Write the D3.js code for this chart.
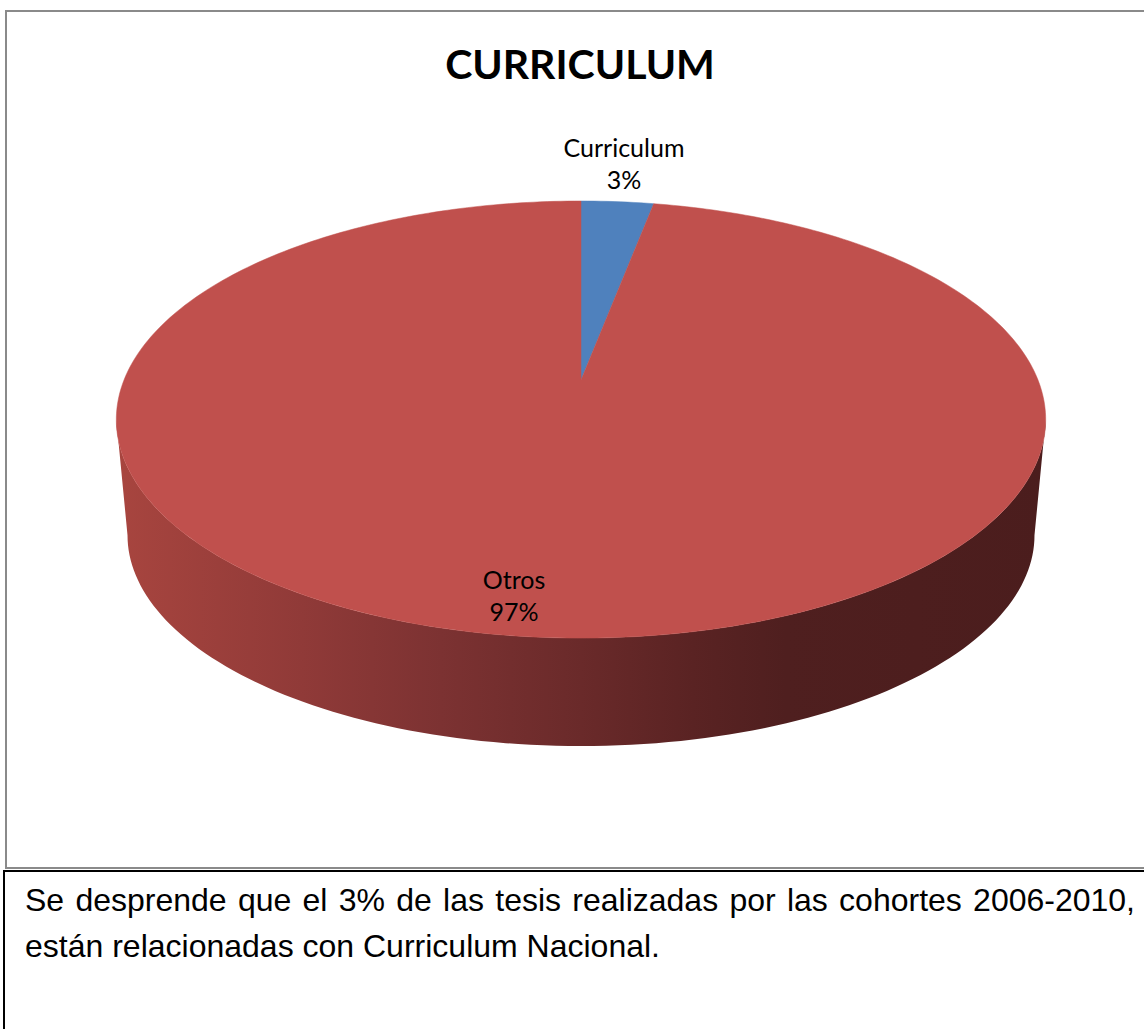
<!DOCTYPE html>
<html><head><meta charset="utf-8">
<script src="https://cdn.jsdelivr.net/npm/d3@7"></script>
<style>html,body{margin:0;padding:0;background:#fff;overflow:hidden}</style>
</head><body>
<svg id="c" width="1144" height="1029"></svg>
<script>
const categories = ["Curriculum", "Otros"];
const values = [3, 97];
const percentLabels = ["3%", "97%"];
const titleText = "CURRICULUM";
const captionLines = [
  "Se desprende que el 3% de las tesis realizadas por las cohortes 2006-2010,",
  "están relacionadas con Curriculum Nacional."
];
const colors = ["#4f81bd", "#c0504d"];

const svg = d3.select("#c");

// frames
svg.append("rect").attr("x", 6).attr("y", 11).attr("width", 1200).attr("height", 857)
  .attr("fill", "none").attr("stroke", "#8a8a8a").attr("stroke-width", 2);
svg.append("rect").attr("x", 4).attr("y", 871).attr("width", 1200).attr("height", 300)
  .attr("fill", "#fff").attr("stroke", "#000").attr("stroke-width", 2);

// perspective projection of unit disc
const cx = 581, k = -0.181;
const topP = {A: 457, B: 211.4, y0: 380};
const botP = {A: 446, B: 204, y0: 497};
function proj(p, ang, r = 1) {
  const u = r * Math.sin(ang), v = -r * Math.cos(ang);
  const w = 1 + k * v;
  return [cx + p.A * u / w, p.y0 + p.B * v / w];
}

const pie = d3.pie().sort(null).value(d => d)(values);

// side wall (front half)
const a0 = Math.PI / 2 + Math.asin(-k), a1 = 3 * Math.PI / 2 - Math.asin(-k);
const N = 120;
const sideAngles = d3.range(N + 1).map(i => a0 + (a1 - a0) * i / N);
const sidePts = sideAngles.map(a => proj(topP, a)).concat(sideAngles.slice().reverse().map(a => proj(botP, a)));

const defs = svg.append("defs");
const grad = defs.append("linearGradient").attr("id", "sideGrad")
  .attr("gradientUnits", "userSpaceOnUse").attr("x1", 116).attr("x2", 1046).attr("y1", 0).attr("y2", 0);
[[0, "#a8453f"], [0.2, "#903a38"], [0.35, "#7c3232"], [0.5, "#6a2a2a"], [0.62, "#5a2323"], [0.72, "#4f1f1f"], [1, "#4b1d1d"]]
  .forEach(([o, c]) => grad.append("stop").attr("offset", o).attr("stop-color", c));

svg.append("path").attr("d", d3.line()(sidePts) + "Z").attr("fill", "url(#sideGrad)");

// top face slices
pie.forEach((s, i) => {
  const n = Math.max(8, Math.ceil((s.endAngle - s.startAngle) / (2 * Math.PI) * 360));
  const pts = [proj(topP, 0, 0)];
  for (let j = 0; j <= n; j++) pts.push(proj(topP, s.startAngle + (s.endAngle - s.startAngle) * j / n));
  svg.append("path").attr("d", d3.line()(pts) + "Z").attr("fill", colors[i])
    .attr("stroke", colors[i]).attr("stroke-width", 0.5);
});

// title
svg.append("text").attr("x", 580).attr("y", 79).attr("text-anchor", "middle")
  .attr("font-family", "Lato, 'Open Sans', sans-serif").attr("font-weight", "bold")
  .attr("font-size", 41).attr("fill", "#000").text(titleText);

// data labels
const labelPos = [[624, 157, 189], [514, 589, 621]];
pie.forEach((s, i) => {
  const g = svg.append("text").attr("text-anchor", "middle")
    .attr("font-family", "Lato, 'Open Sans', sans-serif").attr("font-size", 25).attr("fill", "#000");
  g.append("tspan").attr("x", labelPos[i][0]).attr("y", labelPos[i][1]).text(categories[i]);
  g.append("tspan").attr("x", labelPos[i][0]).attr("y", labelPos[i][2]).text(percentLabels[i]);
});

// caption, first line justified
const capFont = "'Liberation Sans', Arial, sans-serif", capSize = 32;
const left = 25, right = 1135;
const words = captionLines[0].split(" ");
const tmp = svg.append("g").attr("font-family", capFont).attr("font-size", capSize);
const widths = words.map(w => { const t = tmp.append("text").text(w); const l = t.node().getComputedTextLength(); t.remove(); return l; });
const gap = (right - left - d3.sum(widths)) / (words.length - 1);
let xx = left;
words.forEach((w, i) => {
  tmp.append("text").attr("x", xx).attr("y", 911).attr("fill", "#000").text(w);
  xx += widths[i] + gap;
});
tmp.append("text").attr("x", left).attr("y", 957).attr("fill", "#000").text(captionLines[1]);
</script>
</body></html>
